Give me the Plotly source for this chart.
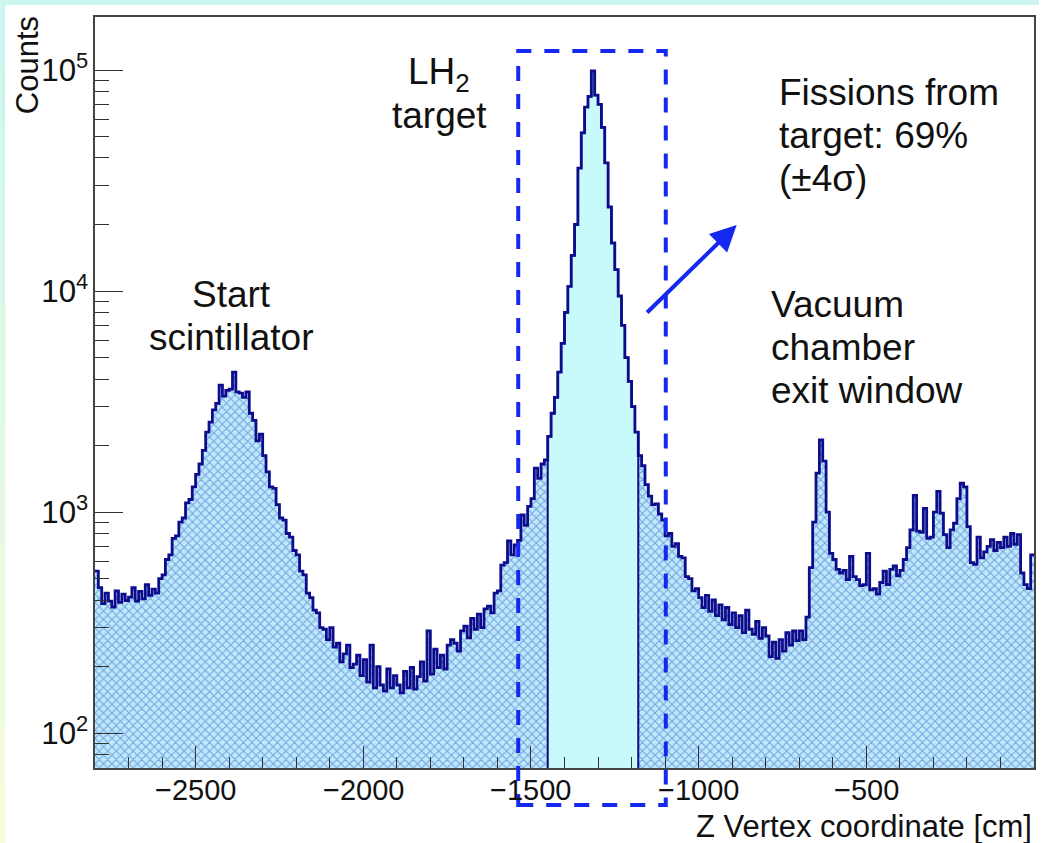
import numpy as np
import plotly.graph_objects as go

# Histogram binning (cm)
Z_START = -2800
BIN_WIDTH = 10

# Counts per 10 cm bin, grouped by region along z
counts_start_region = [
    540, 455, 385, 430, 395, 372, 440, 390, 425, 398,
    412, 455, 395, 438, 405, 470, 420, 448, 430, 500,
    520, 610, 640, 760, 780, 900, 940, 1100, 1140, 1300,
    1480, 1650, 1900, 2300, 2550, 2900, 3100, 3750, 3350, 3550,
    3600, 4300, 3500, 3450, 3300, 3500, 2800, 2600, 2100, 2250,
    1800, 1520, 1300, 1280, 1080, 940, 920, 800, 770, 670,
    640, 540, 520, 430, 410, 360, 350, 300, 295, 265,
    300, 245, 255, 210, 228, 250, 198, 205, 225, 182,
]
counts_valley = [
    215, 170, 250, 160, 200, 165, 155, 195, 160, 182,
    165, 152, 190, 160, 198, 158, 180, 210, 172, 290,
    185, 240, 198, 225, 195, 250, 265, 255, 235, 290,
    305, 270, 330, 295, 345, 300, 365, 375, 350, 430,
    440, 575, 590, 740, 640, 710, 745, 970, 870, 1060,
]
counts_target_region = [
    1150, 1580, 1420, 1650, 1720, 2200, 2800, 3300, 4300, 5800,
    8000, 10500, 14500, 20000, 36000, 52000, 68000, 76000, 99000, 77000,
    70000, 55000, 38000, 24000, 16500, 12500, 9500, 7000, 5000, 3900,
    3000, 2300, 1800, 1620, 1330, 1180, 1080, 1090, 980, 920,
    780, 800, 700, 720, 630, 620, 510, 500, 440, 450,
]
counts_downstream = [
    410, 370, 420, 355, 400, 340, 380, 325, 370, 310,
    350, 300, 340, 285, 360, 295, 280, 320, 268, 300,
    275, 222, 258, 218, 265, 235, 285, 250, 290, 262,
    290, 265, 335, 560, 900, 1500, 2120, 1700, 1000, 650,
    610, 550, 530, 545, 495, 630, 510, 495, 465, 470,
    650, 445, 450, 425, 480, 540, 470, 550, 570, 515,
    545, 610, 690, 830, 1190, 820, 810, 1040, 760, 770,
    1000, 1240, 990, 790, 690, 830, 890, 1150, 1350, 1300,
    860, 590, 580, 770, 620, 660, 700, 750, 670, 730,
    690, 770, 700, 800, 715, 790, 530, 470, 450, 640,
]

# +/- 4 sigma window around the LH2 target peak
TARGET_LO, TARGET_HI = -1450, -1180
# Dashed selection box
BOX_X = [-1538, -1098]

X_TICKS = [-2500, -2000, -1500, -1000, -500]

counts = np.array(counts_start_region + counts_valley + counts_target_region + counts_downstream, float)
edges = Z_START + BIN_WIDTH * np.arange(len(counts) + 1)

# step outline coordinates
step_x = np.repeat(edges, 2)[1:-1]
step_y = np.repeat(counts, 2)

FLOOR = 1.0
NAVY = "#0c0c8c"
BLUE = "#1428f0"
FONT = "Liberation Sans, Arial, Helvetica, sans-serif"

fig = go.Figure()

# hatched area under the full histogram
fig.add_trace(go.Scatter(
    x=np.concatenate([step_x, [edges[-1], edges[0]]]),
    y=np.concatenate([step_y, [FLOOR, FLOOR]]),
    mode="lines", fill="toself", line=dict(width=0),
    fillcolor="#bfe9fb",
    fillpattern=dict(shape="x", fgcolor="#2c5fc6", bgcolor="#bfe9fb", size=6, solidity=0.35),
    hoverinfo="skip", showlegend=False,
))

# solid fill inside the target window
sel = (edges[:-1] >= TARGET_LO) & (edges[1:] <= TARGET_HI)
t_edges = np.append(edges[:-1][sel], edges[1:][sel][-1])
t_x = np.repeat(t_edges, 2)
t_y = np.concatenate([[FLOOR], np.repeat(counts[sel], 2), [FLOOR]])
fig.add_trace(go.Scatter(
    x=t_x, y=t_y, mode="lines", fill="toself",
    fillcolor="#c9fafb", line=dict(color=NAVY, width=2),
    hoverinfo="skip", showlegend=False,
))

# histogram outline
fig.add_trace(go.Scatter(
    x=step_x, y=step_y, mode="lines",
    line=dict(color=NAVY, width=2.8),
    hoverinfo="skip", showlegend=False,
))

# page geometry (pixels)
W, H = 1041, 843
L, R, T, B = 95, 5, 17, 75
PW, PH = W - L - R, H - T - B


def px(xp):
    return (xp - L) / PW


def py(yp):
    return (H - B - yp) / PH


shapes = []
# slide border: light cyan along the top, fading to pale yellow down the left side
shapes.append(dict(type="rect", xref="paper", yref="paper", x0=px(0), x1=px(W), y0=py(5), y1=py(0),
                   fillcolor="#cbf5ef", line=dict(width=0), layer="below"))
n_seg = 14
c0 = np.array([203, 245, 239])
c1 = np.array([244, 253, 218])
for i in range(n_seg):
    f = i / (n_seg - 1)
    c = (c0 * (1 - f) + c1 * f).astype(int)
    shapes.append(dict(type="rect", xref="paper", yref="paper",
                       x0=px(0), x1=px(5),
                       y0=py(5 + (i + 1) * (H - 5) / n_seg + 1), y1=py(5 + i * (H - 5) / n_seg),
                       fillcolor=f"rgb({c[0]},{c[1]},{c[2]})", line=dict(width=0), layer="below"))

# dashed window around the target peak
shapes.append(dict(type="rect", xref="x", yref="paper",
                   x0=BOX_X[0], x1=BOX_X[1], y0=py(805), y1=py(51),
                   line=dict(color=BLUE, width=4, dash="15px,13px"), layer="above"))

annotations = []


def label(text, xp, baseline, anchor="center", size=37):
    annotations.append(dict(
        text=text, xref="paper", yref="paper", x=px(xp), y=py(baseline - 0.33 * size),
        xanchor=anchor, yanchor="middle", showarrow=False,
        font=dict(family=FONT, size=size, color="#111111"),
    ))


label("Start", 232, 307)
label("scintillator", 232, 350)
label("LH<sub>2</sub>", 440, 86)
label("target", 440, 128)
label("Fissions from", 778, 105, anchor="left")
label("target: 69%", 778, 148, anchor="left")
label("(±4σ)", 778, 191, anchor="left")
label("Vacuum", 770, 317, anchor="left")
label("chamber", 770, 360, anchor="left")
label("exit window", 770, 403, anchor="left")

# x tick labels, set close under the axis
for v in X_TICKS:
    annotations.append(dict(
        text=f"{v:d}".replace("-", "\u2212"), xref="x", yref="paper", x=v, y=py(790),
        xanchor="center", yanchor="middle", showarrow=False,
        font=dict(family=FONT, size=29, color="#111111"),
    ))

# arrow
annotations.append(dict(
    text="", xref="paper", yref="paper", x=px(738), y=py(225),
    ax=-91, ay=89, showarrow=True, arrowhead=2, arrowsize=1.3, arrowwidth=4,
    arrowcolor=BLUE, standoff=0,
))

# axis titles
annotations.append(dict(
    text="Z Vertex coordinate [cm]", xref="paper", yref="paper",
    x=px(1036), y=py(826), xanchor="right", yanchor="middle", showarrow=False,
    font=dict(family=FONT, size=31, color="#111111"),
))
annotations.append(dict(
    text="Counts", xref="paper", yref="paper", textangle=-90,
    x=px(28), y=py(14), xanchor="center", yanchor="top", showarrow=False,
    font=dict(family=FONT, size=31, color="#111111"),
))

fig.update_layout(
    width=W, height=H, autosize=False,
    margin=dict(l=L, r=R, t=T, b=B, pad=0),
    paper_bgcolor="white", plot_bgcolor="rgba(255,255,255,0)",
    font=dict(family=FONT, color="#111111"),
    shapes=shapes, annotations=annotations,
    showlegend=False,
)

fig.update_xaxes(
    range=[Z_START, 0], tickvals=X_TICKS, showticklabels=False,
    ticks="inside", ticklen=22, tickwidth=1.3, tickcolor="#333333",
    showline=True, linecolor="#444444", linewidth=1.5, mirror=True,
    showgrid=False, zeroline=False,
    minor=dict(ticks="inside", ticklen=11, dtick=100, tick0=0, tickwidth=1.2, tickcolor="#333333", showgrid=False),
)
fig.update_yaxes(
    type="log", range=[1.842, 5.24], dtick=1, exponentformat="power",
    ticks="inside", ticklen=28, tickwidth=1.3, tickcolor="#333333",
    showline=True, linecolor="#444444", linewidth=1.5, mirror=True,
    showgrid=False, zeroline=False,
    tickfont=dict(size=25, family=FONT, color="#111111"),
    minor=dict(ticks="inside", ticklen=14, dtick="D1", tickwidth=1.2, tickcolor="#333333", showgrid=False),
)

fig.write_html("out.html")
